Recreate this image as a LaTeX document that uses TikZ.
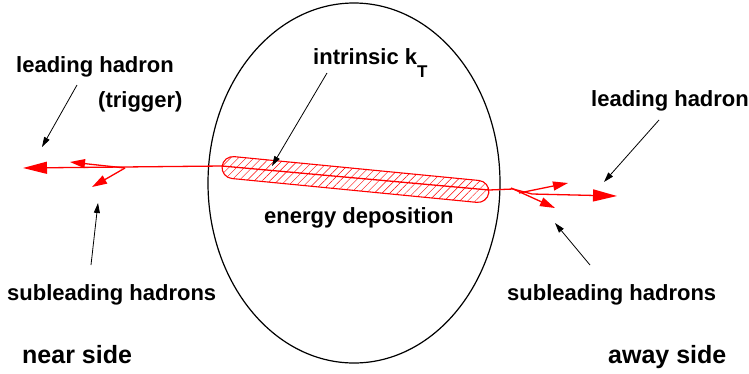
\documentclass[tikz,border=0pt]{standalone}
\usepackage{fontspec}
\setmainfont{Liberation Sans}
\usetikzlibrary{arrows.meta,patterns.meta}
\begin{document}
\begin{tikzpicture}[x=1pt,y=-1pt,
  track/.style={red, line width=1.3pt},
  bigtip/.style={-{Triangle[length=24pt,width=12pt]}},
  smalltip/.style={-{Triangle[length=15pt,width=9pt]}},
  pointer/.style={black, line width=0.8pt, -{Triangle[length=10pt,width=6pt]}},
  lbl/.style={inner sep=0pt, anchor=base west, font=\fontsize{22}{26}\selectfont\bfseries},
  sidelbl/.style={inner sep=0pt, anchor=base west, font=\fontsize{25}{30}\selectfont\bfseries},
  blob/.style={red, line width=1.1pt, pattern={Lines[angle=45,distance=5.5pt,line width=0.45pt]}, pattern color=red}]
\useasboundingbox (0,0) rectangle (749,373);
% medium
\draw[line width=1.2pt] (354,183) ellipse [x radius=146pt, y radius=180pt];
% energy deposition blob
\draw[blob, rotate around={-5.56:(355.5,179)}, rounded corners=11pt] (221.5,168.5) rectangle (489.5,190.5);
% track coordinates
\coordinate (bL) at (222,166);
\coordinate (bR) at (489,190);
\coordinate (ltip) at (23,168);
\coordinate (lb) at (125,168);
\coordinate (lup) at (70,162);
\coordinate (llo) at (92,187);
\coordinate (rb) at (513,189);
\coordinate (rk) at (532,194);
\coordinate (rtip) at (617,196);
\coordinate (rupS) at (519,193);
\coordinate (rup) at (568,183);
\coordinate (rloS) at (511,188);
\coordinate (rlo) at (555,208);
% red tracks
\draw[track, bigtip] (bL) -- (ltip);
\draw[track, smalltip] (lb) -- (lup);
\draw[track, smalltip] (lb) -- (llo);
\draw[track, bigtip] (bL) -- (bR) -- (rb) -- (rk) -- (rtip);
\draw[track, smalltip] (rupS) -- (rup);
\draw[track, smalltip] (rloS) -- (rlo);
% labels
\node[lbl] (lhL) at (16,72) {leading hadron};
\node[lbl] (trig) at (98,107) {(trigger)};
\node[lbl] (kt) at (313,64) {intrinsic k\raisebox{-13pt}{\fontsize{17}{17}\selectfont T}};
\node[lbl] (lhR) at (591,106) {leading hadron};
\node[lbl] (ed) at (264,223) {energy deposition};
\node[lbl] (slL) at (7,300) {subleading hadrons};
\node[lbl] (slR) at (507,300) {subleading hadrons};
\node[sidelbl] (ns) at (22,363) {near side};
\node[sidelbl] (as) at (608,363) {away side};
% pointer coordinates
\coordinate (p1s) at (77,85);   \coordinate (p1e) at (42,147);
\coordinate (p2s) at (91,265);  \coordinate (p2e) at (98,203);
\coordinate (p3s) at (327,73);  \coordinate (p3e) at (272,166);
\coordinate (p4s) at (659,120); \coordinate (p4e) at (604,182);
\coordinate (p5s) at (590,265); \coordinate (p5e) at (555,223);
\draw[pointer] (p1s) -- (p1e);
\draw[pointer] (p2s) -- (p2e);
\draw[pointer] (p3s) -- (p3e);
\draw[pointer] (p4s) -- (p4e);
\draw[pointer] (p5s) -- (p5e);
\end{tikzpicture}
\end{document}
